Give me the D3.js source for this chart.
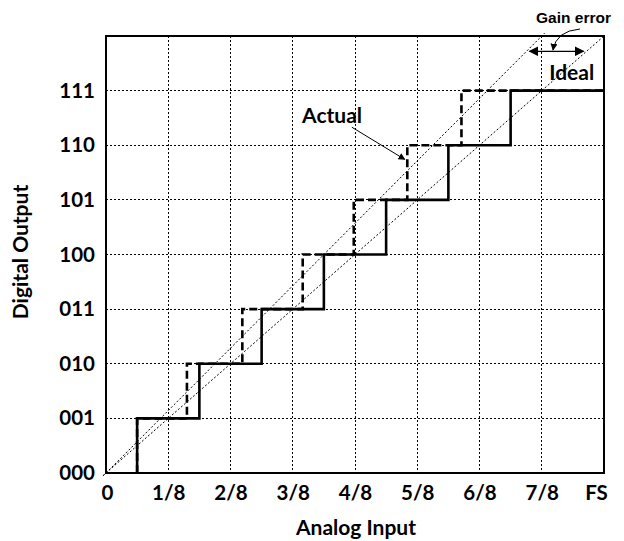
<!DOCTYPE html>
<html>
<head>
<meta charset="utf-8">
<script src="https://cdn.jsdelivr.net/npm/d3@7"></script>
<style>
  body { margin: 0; background: #fff; }
  svg text { font-weight: bold; fill: #000; }
</style>
</head>
<body>
<div id="grafica"></div>
<script>
// valores del gráfico
codigos = ['000', '001', '010', '011', '100', '101', '110', '111']
etiquetasX = ['0', '1/8', '2/8', '3/8', '4/8', '5/8', '6/8', '7/8', 'FS']
bordesIdeal = [0.5, 1.5, 2.5, 3.5, 4.5, 5.5, 6.5]
bordesReal = [0.5, 1.30, 2.19, 3.16, 3.98, 4.84, 5.71]
gananciaReal = 7 / 8

fuente = 'Lato, "Open Sans", sans-serif'
ancho_total = 624
alto_total = 541
margin = { left: 106, right: 20, top: 36, bottom: 68 }
ancho = ancho_total - margin.left - margin.right
alto = alto_total - margin.top - margin.bottom

svg = d3.select('#grafica')
  .append('svg')
  .attr('width', ancho_total)
  .attr('height', alto_total)

g = svg.append('g')
  .attr('transform', `translate(${margin.left},${margin.top})`)

x = d3.scaleLinear().domain([0, 8]).range([0, ancho])
y = d3.scaleLinear().domain([0, 8]).range([alto, 0])

defs = svg.append('defs')
defs.append('clipPath').attr('id', 'clip')
  .append('rect')
  .attr('x', -4).attr('y', -3)
  .attr('width', ancho + 4).attr('height', alto + 7)

function marcador(id, tam) {
  defs.append('marker')
    .attr('id', id)
    .attr('viewBox', '0 0 10 10')
    .attr('refX', 9).attr('refY', 5)
    .attr('markerWidth', tam).attr('markerHeight', tam)
    .attr('markerUnits', 'userSpaceOnUse')
    .attr('orient', 'auto-start-reverse')
    .append('path')
    .attr('d', 'M0,0 L10,5 L0,10 Z')
    .attr('fill', '#000')
}
marcador('flecha', 7)
marcador('flecha2', 10)

// rejilla punteada
g.append('g')
  .selectAll('line')
  .data(d3.range(1, 8))
  .enter()
  .append('line')
  .attr('x1', (d) => x(d)).attr('x2', (d) => x(d))
  .attr('y1', 0).attr('y2', alto)
  .attr('stroke', '#000').attr('stroke-width', 1)
  .attr('shape-rendering', 'crispEdges')
  .attr('stroke-dasharray', '2,2')

g.append('g')
  .selectAll('line')
  .data(d3.range(1, 8))
  .enter()
  .append('line')
  .attr('x1', 0).attr('x2', ancho)
  .attr('y1', (d) => y(d)).attr('y2', (d) => y(d))
  .attr('stroke', '#000').attr('stroke-width', 1)
  .attr('shape-rendering', 'crispEdges')
  .attr('stroke-dasharray', '2,2')

// rectas ideal y real
diag = g.append('g').attr('clip-path', 'url(#clip)')
diag.append('line')
  .attr('x1', x(-0.05)).attr('y1', y(-0.05))
  .attr('x2', x(8.1)).attr('y2', y(8.1))
  .attr('stroke', '#000').attr('stroke-width', 1)
  .attr('stroke-dasharray', '2,2')
diag.append('line')
  .attr('x1', x(-0.05 * gananciaReal)).attr('y1', y(-0.05))
  .attr('x2', x(8.1 * gananciaReal)).attr('y2', y(8.1))
  .attr('stroke', '#000').attr('stroke-width', 1)
  .attr('stroke-dasharray', '2,2')

function escalera(bordes) {
  puntos = [[bordes[0], 0]]
  bordes.forEach((b, i) => {
    siguiente = i + 1 < bordes.length ? bordes[i + 1] : 8
    puntos.push([b, i + 1])
    puntos.push([siguiente, i + 1])
  })
  return puntos
}

linea = d3.line().x((d) => x(d[0])).y((d) => y(d[1]))

g.append('path')
  .attr('d', linea(escalera(bordesReal)))
  .attr('fill', 'none')
  .attr('stroke', '#000')
  .attr('stroke-width', 2.6)
  .attr('stroke-dasharray', '8,4')

g.append('path')
  .attr('d', linea(escalera(bordesIdeal)))
  .attr('fill', 'none')
  .attr('stroke', '#000')
  .attr('stroke-width', 2.6)

// marco
g.append('rect')
  .attr('x', 0).attr('y', 0)
  .attr('width', ancho).attr('height', alto)
  .attr('fill', 'none')
  .attr('stroke', '#000')
  .attr('stroke-width', 2)

// ejes
xAxisCall = d3.axisBottom(x)
  .tickValues(d3.range(0, 9))
  .tickSize(0)
  .tickPadding(12)
  .tickFormat((d) => etiquetasX[d])
xGroup = g.append('g')
  .attr('transform', `translate(0,${alto})`)
  .call(xAxisCall)
xGroup.select('.domain').remove()
xGroup.selectAll('text')
  .style('font-family', fuente)
  .style('font-size', '20.5px')
  .attr('dx', (d) => d == 8 ? -8 : (d == 0 ? 1 : 0))

yAxisCall = d3.axisLeft(y)
  .tickValues(d3.range(0, 8))
  .tickSize(0)
  .tickPadding(11)
  .tickFormat((d) => codigos[d])
yGroup = g.append('g').call(yAxisCall)
yGroup.select('.domain').remove()
yGroup.selectAll('text')
  .style('font-family', fuente)
  .style('font-size', '20.5px')

svg.append('text')
  .attr('x', 356)
  .attr('y', 535)
  .attr('text-anchor', 'middle')
  .style('font-family', fuente)
  .style('font-size', '21px')
  .text('Analog Input')

svg.append('text')
  .attr('transform', 'translate(28,252) rotate(-90)')
  .attr('text-anchor', 'middle')
  .style('font-family', fuente)
  .style('font-size', '21px')
  .text('Digital Output')

// anotaciones
g.append('text')
  .attr('x', x(3.15)).attr('y', y(6.4))
  .style('font-family', fuente)
  .style('font-size', '21px')
  .text('Actual')

g.append('line')
  .attr('x1', x(3.95)).attr('y1', y(6.33))
  .attr('x2', x(4.8)).attr('y2', y(5.74))
  .attr('stroke', '#000').attr('stroke-width', 1)
  .attr('marker-end', 'url(#flecha)')

g.append('text')
  .attr('x', x(7.12)).attr('y', y(7.2))
  .style('font-family', fuente)
  .style('font-size', '21px')
  .text('Ideal')

nivelError = 7.72
g.append('line')
  .attr('x1', x(nivelError * gananciaReal) + 3).attr('y1', y(nivelError))
  .attr('x2', x(nivelError) - 3).attr('y2', y(nivelError))
  .attr('stroke', '#000').attr('stroke-width', 1.3)
  .attr('marker-start', 'url(#flecha2)')
  .attr('marker-end', 'url(#flecha2)')

svg.append('path')
  .attr('d', 'M580,29 Q556,31 553,50')
  .attr('fill', 'none')
  .attr('stroke', '#000').attr('stroke-width', 1)
  .attr('marker-end', 'url(#flecha)')

svg.append('text')
  .attr('x', 536).attr('y', 23)
  .style('font-family', '"Liberation Sans", Arial, sans-serif')
  .style('font-size', '15.5px')
  .text('Gain error')
</script>
</body>
</html>
